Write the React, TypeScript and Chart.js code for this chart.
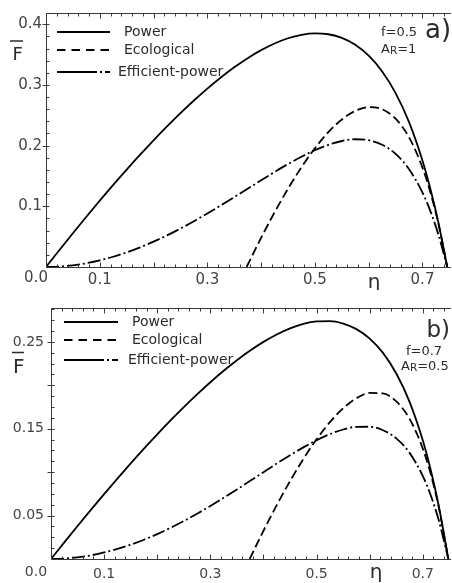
import React, { useEffect, useRef } from "react";
import { Chart, registerables } from "chart.js";

Chart.register(...registerables);

// ---- panel a) f=0.5, A_R=1 ----
const ETA_A = [0, 0.025, 0.05, 0.075, 0.1, 0.125, 0.15, 0.175, 0.2, 0.225, 0.25, 0.275, 0.3, 0.325, 0.35, 0.375, 0.4, 0.425, 0.45, 0.475, 0.5, 0.525, 0.55, 0.575, 0.6, 0.625, 0.65, 0.675, 0.7, 0.715, 0.73, 0.746];
const POWER_A = [0, 0.0281, 0.0557, 0.0828, 0.1093, 0.1353, 0.1605, 0.185, 0.2088, 0.2316, 0.2535, 0.2743, 0.2939, 0.3122, 0.329, 0.3441, 0.3573, 0.3683, 0.3769, 0.3826, 0.385, 0.3835, 0.3775, 0.3661, 0.3481, 0.3222, 0.2866, 0.2387, 0.1752, 0.1277, 0.0715, 0];
const EFF_POWER_A = [0, 0.0007, 0.0028, 0.0062, 0.0109, 0.0169, 0.0241, 0.0324, 0.0418, 0.0521, 0.0634, 0.0754, 0.0882, 0.1015, 0.1152, 0.129, 0.1429, 0.1565, 0.1696, 0.1817, 0.1925, 0.2013, 0.2076, 0.2105, 0.2089, 0.2014, 0.1863, 0.1611, 0.1226, 0.0913, 0.0522, 0];
const ETA_ECO_A = [0.373, 0.4, 0.425, 0.45, 0.475, 0.5, 0.525, 0.55, 0.575, 0.6, 0.625, 0.65, 0.675, 0.7, 0.715, 0.73, 0.746];
const ECO_A = [0, 0.0482, 0.0901, 0.129, 0.1643, 0.1956, 0.2221, 0.243, 0.2572, 0.2634, 0.2599, 0.2443, 0.2136, 0.1637, 0.1221, 0.0699, 0];

// ---- panel b) f=0.7, A_R=0.5 ----
const ETA_B = [0, 0.025, 0.05, 0.075, 0.1, 0.125, 0.15, 0.175, 0.2, 0.225, 0.25, 0.275, 0.3, 0.325, 0.35, 0.375, 0.4, 0.425, 0.45, 0.475, 0.5, 0.525, 0.55, 0.575, 0.6, 0.625, 0.65, 0.675, 0.7, 0.715, 0.73, 0.748];
const POWER_B = [0, 0.0191, 0.038, 0.0565, 0.0747, 0.0925, 0.11, 0.127, 0.1435, 0.1595, 0.1748, 0.1895, 0.2035, 0.2167, 0.2289, 0.24, 0.25, 0.2585, 0.2655, 0.2706, 0.2735, 0.2739, 0.2711, 0.2647, 0.2538, 0.2373, 0.2136, 0.181, 0.1364, 0.1022, 0.061, 0];
const EFF_POWER_B = [0, 0.0005, 0.0019, 0.0042, 0.0075, 0.0116, 0.0165, 0.0222, 0.0287, 0.0359, 0.0437, 0.0521, 0.0611, 0.0704, 0.0801, 0.09, 0.1, 0.1099, 0.1195, 0.1285, 0.1368, 0.1438, 0.1491, 0.1522, 0.1523, 0.1483, 0.1389, 0.1222, 0.0955, 0.0731, 0.0445, 0];
const ETA_ECO_B = [0.374, 0.4, 0.425, 0.45, 0.475, 0.5, 0.525, 0.55, 0.575, 0.6, 0.625, 0.65, 0.675, 0.7, 0.715, 0.73, 0.748];
const ECO_B = [0, 0.0325, 0.062, 0.0897, 0.1151, 0.1378, 0.1575, 0.1735, 0.1851, 0.1912, 0.1906, 0.1814, 0.1614, 0.127, 0.0975, 0.0595, 0];

// ---- labels ----
const SERIES_NAMES = ["Power", "Ecological", "Efficient-power"];
const X_TICK_LABELS = ["0.1", "0.3", "0.5", "0.7"];
const Y_TICK_LABELS_A = ["0.1", "0.2", "0.3", "0.4"];
const Y_TICK_LABELS_B = ["0.05", "0.15", "0.25"];

const FONT = '"DejaVu Sans", Verdana, sans-serif';
const INK = "#000000";
const AXIS = "#3a3a3a";
const TEXT = "#2b2b2b";
const TICK_TEXT = "#444444";
const X_MINOR = 0.02;
const CURVE_WIDTH = 1.8;

const LINE_DASHES: number[][] = [[], [9, 4], [13, 3, 2, 3]];
const LEGEND_DASHES: number[][] = [[], [8.5, 6], [40, 3, 2, 3]];

type Panel = {
  offset: number;
  height: number;
  padTop: number;
  axisW: number;
  axisH: number;
  xMax: number;
  yMax: number;
  yStep: number;
  yMinor: number;
  yMajorEvery: number;
  yDigits: number;
  yLabels: string[];
  tickSize: number;
  xPad: number;
  yPad: number;
  eta: number[];
  power: number[];
  ecoEta: number[];
  eco: number[];
  eff: number[];
  legendLine: [number, number];
  legendY: number[];
  legendTextX: number[];
  tag: string;
  tagX: number;
  tagY: number;
  tagSize: number;
  tagAlign: CanvasTextAlign;
  fText: string;
  fX: number;
  fY: number;
  arValue: string;
  arX: number;
  arY: number;
  fLabel: { x: number; y: number; size: number; barY: number; barX0: number; barX1: number };
  etaLabel: { x: number; y: number };
  zeroLabel: { x: number; y: number };
};

const PANEL_A: Panel = {
  offset: 0,
  height: 290,
  padTop: 13,
  axisW: 46,
  axisH: 23,
  xMax: 0.753,
  yMax: 0.4185,
  yStep: 0.1,
  yMinor: 0.02,
  yMajorEvery: 5,
  yDigits: 1,
  yLabels: Y_TICK_LABELS_A,
  tickSize: 15,
  xPad: -4,
  yPad: -4,
  eta: ETA_A,
  power: POWER_A,
  ecoEta: ETA_ECO_A,
  eco: ECO_A,
  eff: EFF_POWER_A,
  legendLine: [57, 110],
  legendY: [32, 50, 72],
  legendTextX: [124, 124, 118],
  tag: "a)",
  tagX: 425,
  tagY: 38,
  tagSize: 26,
  tagAlign: "left",
  fText: "f=0.5",
  fX: 381,
  fY: 36,
  arValue: "=1",
  arX: 381,
  arY: 52.5,
  fLabel: { x: 12.5, y: 60, size: 18, barY: 41, barX0: 10, barX1: 23 },
  etaLabel: { x: 374, y: 288 },
  zeroLabel: { x: 36, y: 278 },
};

const PANEL_B: Panel = {
  offset: 290,
  height: 293,
  padTop: 18,
  axisW: 51,
  axisH: 24,
  xMax: 0.753,
  yMax: 0.289,
  yStep: 0.05,
  yMinor: 0.0125,
  yMajorEvery: 4,
  yDigits: 2,
  yLabels: Y_TICK_LABELS_B,
  tickSize: 14,
  xPad: -1,
  yPad: -1,
  eta: ETA_B,
  power: POWER_B,
  ecoEta: ETA_ECO_B,
  eco: ECO_B,
  eff: EFF_POWER_B,
  legendLine: [64, 118],
  legendY: [32, 50, 70],
  legendTextX: [132, 132, 128],
  tag: "b)",
  tagX: 450,
  tagY: 46.5,
  tagSize: 23,
  tagAlign: "right",
  fText: "f=0.7",
  fX: 406,
  fY: 65,
  arValue: "=0.5",
  arX: 401,
  arY: 80,
  fLabel: { x: 13, y: 83, size: 20, barY: 62.5, barX0: 12, barX1: 24 },
  etaLabel: { x: 376, y: 288 },
  zeroLabel: { x: 36, y: 282 },
};

function text(
  ctx: CanvasRenderingContext2D,
  s: string,
  x: number,
  y: number,
  size: number,
  align: CanvasTextAlign = "left",
  baseline: CanvasTextBaseline = "alphabetic",
  color: string = TEXT
) {
  ctx.font = `${size}px ${FONT}`;
  ctx.textAlign = align;
  ctx.textBaseline = baseline;
  ctx.fillStyle = color;
  ctx.fillText(s, x, y);
  return ctx.measureText(s).width;
}

function decorPlugin(p: Panel) {
  return {
    id: "panelDecor",
    afterDraw(chart: any) {
      const ctx: CanvasRenderingContext2D = chart.ctx;
      const { left, right, top, bottom } = chart.chartArea;
      const xs = chart.scales.x;
      const ys = chart.scales.y;
      const L = Math.round(left) + 0.5;
      const T = Math.round(top) + 0.5;
      const B = Math.round(bottom) + 0.5;
      ctx.save();

      // frame: left, top and bottom axis lines
      ctx.strokeStyle = AXIS;
      ctx.lineWidth = 1;
      ctx.setLineDash([]);
      ctx.beginPath();
      ctx.moveTo(L, T);
      ctx.lineTo(right, T);
      ctx.moveTo(L, T);
      ctx.lineTo(L, B);
      ctx.lineTo(right, B);

      // inward ticks on bottom and top axes
      for (let i = 0; i * X_MINOR <= p.xMax + 1e-9; i++) {
        const px = Math.round(xs.getPixelForValue(i * X_MINOR)) + 0.5;
        const len = i % 5 === 0 ? 5 : 3;
        ctx.moveTo(px, B);
        ctx.lineTo(px, B - len);
        ctx.moveTo(px, T);
        ctx.lineTo(px, T + len);
      }
      // ticks on the left axis
      for (let i = 1; i * p.yMinor <= p.yMax + 1e-9; i++) {
        const py = Math.round(ys.getPixelForValue(i * p.yMinor)) + 0.5;
        if (i % p.yMajorEvery === 0) {
          ctx.moveTo(L - 4, py);
          ctx.lineTo(L + 3, py);
        } else {
          ctx.moveTo(L, py);
          ctx.lineTo(L + 3, py);
        }
      }
      ctx.stroke();

      // origin label
      text(ctx, "0.0", p.zeroLabel.x, p.zeroLabel.y, p.tickSize, "center", "middle", TICK_TEXT);

      // legend
      ctx.strokeStyle = INK;
      ctx.lineWidth = CURVE_WIDTH;
      SERIES_NAMES.forEach((name, i) => {
        const y = p.legendY[i];
        ctx.setLineDash(LEGEND_DASHES[i]);
        ctx.beginPath();
        ctx.moveTo(p.legendLine[0], y);
        ctx.lineTo(p.legendLine[1], y);
        ctx.stroke();
        ctx.setLineDash([]);
        text(ctx, name, p.legendTextX[i], y, 14, "left", "middle", TEXT);
      });

      // panel tag and parameters
      text(ctx, p.tag, p.tagX, p.tagY, p.tagSize, p.tagAlign, "alphabetic", TEXT);
      text(ctx, p.fText, p.fX, p.fY, 13, "left", "alphabetic", TEXT);
      let ax = p.arX;
      ax += text(ctx, "A", ax, p.arY, 13, "left", "alphabetic", TEXT);
      ax += text(ctx, "R", ax, p.arY + 1, 10.5, "left", "alphabetic", TEXT);
      text(ctx, p.arValue, ax, p.arY, 13, "left", "alphabetic", TEXT);

      // axis titles: F with an overbar, and eta
      const f = p.fLabel;
      text(ctx, "F", f.x, f.y, f.size, "left", "alphabetic", TEXT);
      ctx.strokeStyle = TEXT;
      ctx.lineWidth = 1.5;
      ctx.beginPath();
      ctx.moveTo(f.barX0, f.barY);
      ctx.lineTo(f.barX1, f.barY);
      ctx.stroke();
      text(ctx, "η", p.etaLabel.x, p.etaLabel.y, 20, "center", "alphabetic", TEXT);

      ctx.restore();
    },
  };
}

function buildConfig(p: Panel): any {
  const pts = (xs: number[], ys: number[]) => xs.map((x, i) => ({ x, y: ys[i] }));
  const series = [pts(p.eta, p.power), pts(p.ecoEta, p.eco), pts(p.eta, p.eff)];
  return {
    type: "line",
    data: {
      datasets: series.map((data, i) => ({
        label: SERIES_NAMES[i],
        data,
        borderColor: INK,
        borderWidth: CURVE_WIDTH,
        borderDash: LINE_DASHES[i],
        pointRadius: 0,
        fill: false,
        cubicInterpolationMode: "monotone",
      })),
    },
    options: {
      animation: false,
      responsive: false,
      devicePixelRatio: 1,
      layout: { padding: { top: p.padTop, right: 1, left: 0, bottom: 0 } },
      plugins: { legend: { display: false }, tooltip: { enabled: false } },
      events: [],
      scales: {
        x: {
          type: "linear",
          min: 0,
          max: p.xMax,
          afterFit: (s: any) => {
            s.height = p.axisH;
          },
          grid: { display: false },
          border: { display: false },
          ticks: {
            stepSize: 0.1,
            includeBounds: false,
            autoSkip: false,
            maxRotation: 0,
            padding: p.xPad,
            color: TICK_TEXT,
            font: { family: FONT, size: p.tickSize },
            callback: (v: any) => {
              const s = Number(v).toFixed(1);
              return X_TICK_LABELS.includes(s) ? s : "";
            },
          },
        },
        y: {
          type: "linear",
          min: 0,
          max: p.yMax,
          afterFit: (s: any) => {
            s.width = p.axisW;
          },
          grid: { display: false },
          border: { display: false },
          ticks: {
            stepSize: p.yStep,
            includeBounds: false,
            autoSkip: false,
            padding: p.yPad,
            color: TICK_TEXT,
            font: { family: FONT, size: p.tickSize },
            callback: (v: any) => {
              const s = Number(v).toFixed(p.yDigits);
              return p.yLabels.includes(s) ? s : "";
            },
          },
        },
      },
    },
    plugins: [decorPlugin(p)],
  };
}

function PanelChart({ spec }: { spec: Panel }) {
  const ref = useRef<HTMLCanvasElement>(null);
  useEffect(() => {
    if (!ref.current) return;
    const chart = new Chart(ref.current, buildConfig(spec));
    return () => chart.destroy();
  }, [spec]);
  return (
    <canvas
      ref={ref}
      width={452}
      height={spec.height}
      style={{ position: "absolute", left: 0, top: spec.offset, width: 452, height: spec.height }}
    />
  );
}

export default function App() {
  return (
    <div style={{ position: "absolute", left: 0, top: 0, width: 452, height: 583, background: "#ffffff" }}>
      <PanelChart spec={PANEL_A} />
      <PanelChart spec={PANEL_B} />
    </div>
  );
}
